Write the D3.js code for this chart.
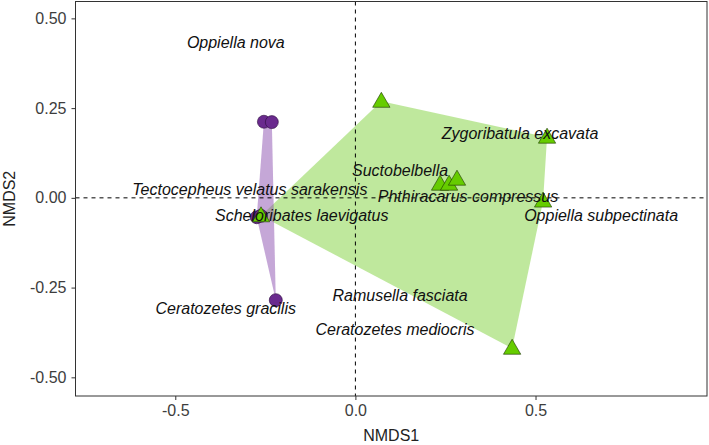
<!DOCTYPE html>
<html>
<head>
<meta charset="utf-8">
<script src="https://cdn.jsdelivr.net/npm/d3@7"></script>
<style>
  body { margin: 0; background: #fff; }
  text { font-family: Arial, "Liberation Sans", sans-serif; }
</style>
</head>
<body>
<script>
// group 1 (purple circles)
var circleX = [-0.254, -0.232, -0.274, -0.262, -0.221];
var circleY = [0.212, 0.211, -0.054, -0.050, -0.285];
// group 2 (green triangles)
var triX = [0.072, 0.532, 0.235, 0.260, 0.282, 0.521, 0.435, -0.262];
var triY = [0.269, 0.169, 0.038, 0.038, 0.052, -0.009, -0.419, -0.050];
// species labels
var species = ["Oppiella nova", "Zygoribatula excavata", "Suctobelbella",
  "Tectocepheus velatus sarakensis", "Phthiracarus compressus",
  "Scheloribates laevigatus", "Oppiella subpectinata", "Ramusella fasciata",
  "Ceratozetes gracilis", "Ceratozetes mediocris"];
var spX = [-0.332, 0.457, 0.124, -0.293, 0.3125, -0.149, 0.682, 0.124, -0.36, 0.11];
var spY = [0.434, 0.179, 0.077, 0.024, 0.003, -0.048, -0.048, -0.271, -0.307, -0.366];
var xTicks = [-0.5, 0, 0.5];
var yTicks = [-0.5, -0.25, 0, 0.25, 0.5];

var margin = {top: 1.5, right: 2, bottom: 49, left: 75.5},
    W = 709, H = 445,
    width = W - margin.left - margin.right,
    height = H - margin.top - margin.bottom;

var x = d3.scaleLinear().domain([-0.777, 0.976]).range([0, width]);
var y = d3.scaleLinear().domain([-0.552, 0.547]).range([height, 0]);

// hyphen instead of unicode minus, like R output
var fmt1 = d3.formatLocale({decimal: ".", thousands: ",", grouping: [3], currency: ["", ""], minus: "-"}).format(".1f");
var fmt2 = d3.formatLocale({decimal: ".", thousands: ",", grouping: [3], currency: ["", ""], minus: "-"}).format(".2f");

var svg = d3.select("body").append("svg")
    .attr("width", W).attr("height", H)
  .append("g")
    .attr("transform", "translate(" + margin.left + "," + margin.top + ")");

var circles = circleX.map(function(d, i) { return [x(d), y(circleY[i])]; });
var tris = triX.map(function(d, i) { return [x(d), y(triY[i])]; });

// hulls
svg.append("path")
    .attr("d", "M" + d3.polygonHull(tris).join("L") + "Z")
    .attr("fill", "#7fd13b").attr("fill-opacity", 0.5);
svg.append("path")
    .attr("d", "M" + d3.polygonHull(circles).join("L") + "Z")
    .attr("fill", "#8b4fb0").attr("fill-opacity", 0.5);

// reference lines
svg.append("line")
    .attr("x1", x(0)).attr("x2", x(0)).attr("y1", 0).attr("y2", height)
    .attr("stroke", "#000").attr("stroke-dasharray", "4,4");
svg.append("line")
    .attr("x1", 0).attr("x2", width).attr("y1", y(0)).attr("y2", y(0))
    .attr("stroke", "#000").attr("stroke-dasharray", "4,4");

// points
svg.selectAll("circle.pt").data(circles).enter().append("circle")
    .attr("class", "pt")
    .attr("cx", function(d) { return d[0]; })
    .attr("cy", function(d) { return d[1]; })
    .attr("r", 6.5)
    .attr("fill", "#6a2a8e").attr("stroke", "#2a0a3a").attr("stroke-width", 0.6);

var tri = d3.symbol().type(d3.symbolTriangle).size(130);
svg.selectAll("path.tri").data(tris).enter().append("path")
    .attr("class", "tri")
    .attr("transform", function(d) { return "translate(" + d[0] + "," + (d[1] + 1) + ")"; })
    .attr("d", tri)
    .attr("fill", "#66cc00").attr("stroke", "#1a3300").attr("stroke-width", 0.6);

// labels
svg.selectAll("text.sp").data(species).enter().append("text")
    .attr("class", "sp")
    .attr("x", function(d, i) { return x(spX[i]); })
    .attr("y", function(d, i) { return y(spY[i]); })
    .attr("dy", "0.35em")
    .attr("text-anchor", "middle")
    .style("font-style", "italic")
    .style("font-size", "16px")
    .attr("fill", "#111")
    .text(function(d) { return d; });

// axes
var xAxis = svg.append("g")
    .attr("transform", "translate(0," + height + ")")
    .call(d3.axisBottom(x).tickValues(xTicks).tickSize(4).tickPadding(5)
      .tickFormat(fmt1));
var yAxis = svg.append("g")
    .call(d3.axisLeft(y).tickValues(yTicks).tickSize(4).tickPadding(5)
      .tickFormat(fmt2));
[xAxis, yAxis].forEach(function(g) {
  g.select(".domain").remove();
  g.selectAll(".tick line").attr("stroke", "#333");
  g.selectAll(".tick text").attr("fill", "#3d3d3d")
    .style("font-size", "16px").style("font-family", "Arial, 'Liberation Sans', sans-serif");
});

// panel border
svg.append("rect")
    .attr("width", width).attr("height", height)
    .attr("fill", "none").attr("stroke", "#333").attr("stroke-width", 1);

// axis titles
svg.append("text")
    .attr("x", width / 2).attr("y", height + 45)
    .attr("text-anchor", "middle").style("font-size", "16px").attr("fill", "#222")
    .text("NMDS1");
svg.append("text")
    .attr("transform", "translate(" + (-61) + "," + (height / 2) + ") rotate(-90)")
    .attr("text-anchor", "middle").style("font-size", "16px").attr("fill", "#222")
    .text("NMDS2");
</script>
</body>
</html>
